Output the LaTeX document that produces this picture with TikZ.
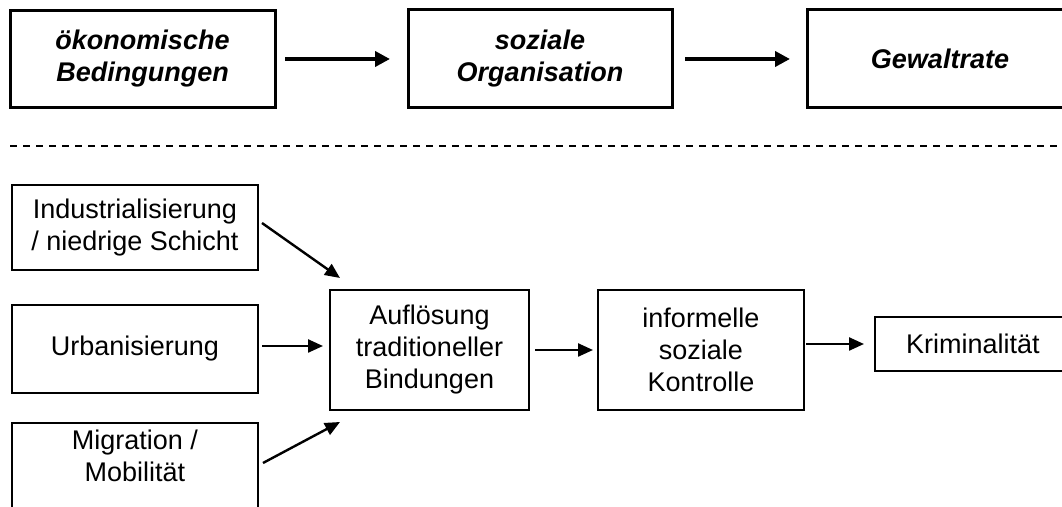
\documentclass[tikz,border=0pt]{standalone}
\usepackage{fontspec}
\setmainfont{Liberation Sans}
\usetikzlibrary{arrows.meta,calc}

\begin{document}
\begin{tikzpicture}[x=0.5pt,y=-0.5pt,
  topbox/.style={draw, line width=1.5pt, inner sep=0pt, outer sep=0pt, align=center,
    font=\fontsize{13.5}{16}\selectfont\bfseries\itshape},
  lowbox/.style={draw, line width=1pt, inner sep=0pt, outer sep=0pt, align=center,
    font=\fontsize{13.5}{16}\selectfont},
  toparrow/.style={-{Triangle[length=7.5pt,width=7.5pt]}, line width=2pt},
  lowarrow/.style={-{Triangle[length=7.5pt,width=6.5pt]}, line width=1.2pt}]
  \useasboundingbox (0,0) rectangle (1062,507);
  \node[topbox, minimum width=132.5pt, minimum height=48.5pt](oekon) at (142.5,59){ökonomische\\Bedingungen};
  \node[topbox, minimum width=132pt, minimum height=49pt](sozorg) at (540,59){soziale\\Organisation};
  \node[topbox, minimum width=133pt, minimum height=49pt](gewalt) at (940,59){Gewaltrate};
  \draw[toparrow, shorten <=5pt, shorten >=9pt](oekon)--(sozorg);
  \draw[toparrow, shorten <=6.5pt, shorten >=8.5pt](sozorg)--(gewalt);
  \draw[line width=1pt, dash pattern=on 3.5pt off 3pt](10,146)--(1062,146);
  \node[lowbox, minimum width=123pt, minimum height=42.5pt](indus) at (135,227.5){Industrialisierung\\/ niedrige Schicht};
  \node[lowbox, minimum width=123pt, minimum height=44pt](urban) at (135,349){Urbanisierung};
  \node[lowbox, anchor=north, minimum width=123pt, minimum height=60pt,
    label={[anchor=north, align=center, font=\fontsize{13.5}{16}\selectfont]north:Migration /\\Mobilität}](migr) at (135,423){};
  \node[lowbox, minimum width=99.5pt, minimum height=60pt](aufl) at (429.5,350){Auflösung\\traditioneller\\Bindungen};
  \node[lowbox, minimum width=103pt, minimum height=60pt](kontr) at (701,350){informelle\\soziale\\Kontrolle};
  \node[lowbox, minimum width=98pt, minimum height=27pt](krim) at (973,344){Kriminalität};
  \draw[lowarrow]($(indus.east)+(4,-4.5)$)--($(aufl.north west)+(10,-12)$);
  \draw[lowarrow, shorten <=2pt, shorten >=3.5pt]($(urban.east)+(0,-3)$)--($(urban.east -| aufl.west)+(0,-3)$);
  \draw[lowarrow]($(migr.north east)+(5,40)$)--($(aufl.south west)+(10,12)$);
  \draw[lowarrow, shorten <=3pt, shorten >=2.5pt](aufl)--(kontr);
  \draw[lowarrow, shorten <=1pt, shorten >=5.5pt](kontr.east |- krim.west)--(krim.west);
\end{tikzpicture}
\end{document}
